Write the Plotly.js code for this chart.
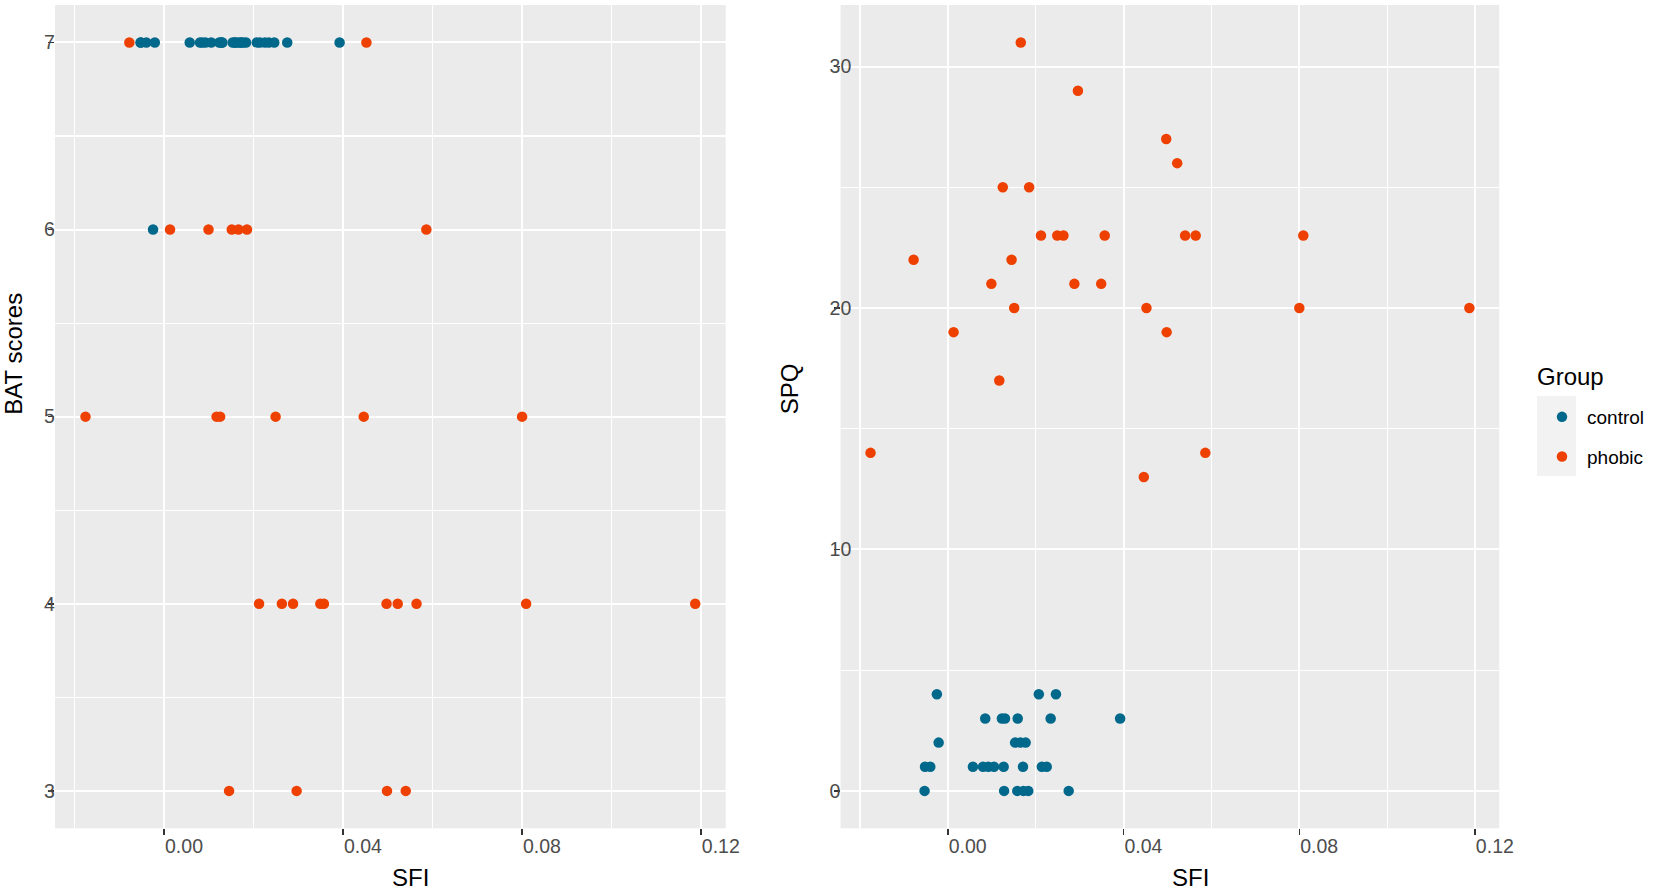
<!DOCTYPE html>
<html>
<head>
<meta charset="utf-8">
<script src="https://cdn.plot.ly/plotly-3.0.1.min.js"></script>
<style>
  html, body { margin: 0; padding: 0; background: #ffffff; }
  #chart { width: 1654px; height: 892px; }
</style>
</head>
<body>
<div id="chart"></div>
<script>
// ---- data ----
const groupNames = ["control", "phobic"];
const legendTitle = "Group";
const xTitle = "SFI";
const yTitleLeft = "BAT scores";
const yTitleRight = "SPQ";

const controlSFI = [-0.0053, 0.0128, 0.0158, 0.0172, 0.0183, 0.0275,
                    -0.0052, -0.0040, 0.0057, 0.0080, 0.0092, 0.0105, 0.0127, 0.0171, 0.0214, 0.0225,
                    -0.0021, 0.0153, 0.0165, 0.0177,
                    0.0085, 0.0123, 0.0130, 0.0159, 0.0234, 0.0392,
                    -0.0025, 0.0207, 0.0246];
const controlSPQ = [0, 0, 0, 0, 0, 0,
                    1, 1, 1, 1, 1, 1, 1, 1, 1, 1,
                    2, 2, 2, 2,
                    3, 3, 3, 3, 3, 3,
                    4, 4, 4];
const controlBAT = [7, 7, 7, 7, 7, 7,
                    7, 7, 7, 7, 7, 7, 7, 7, 7, 7,
                    7, 7, 7, 7,
                    7, 7, 7, 7, 7, 7,
                    6, 7, 7];

const phobicSFI = [0.0166, 0.0296, 0.0497, 0.0522, 0.0125, 0.0185, 0.0212, 0.0249, 0.0263, 0.0357,
                   0.0540, 0.0564, 0.0809, -0.0078, 0.0145, 0.0099, 0.0288, 0.0349, 0.0151, 0.0452,
                   0.0800, 0.0013, 0.0498, 0.0117, -0.0176, 0.0586, 0.0446, 0.1187];
const phobicSPQ = [31, 29, 27, 26, 25, 25, 23, 23, 23, 23,
                   23, 23, 23, 22, 22, 21, 21, 21, 20, 20,
                   20, 19, 19, 17, 14, 14, 13, 20];
const phobicBAT = [6, 3, 4, 4, 5, 6, 4, 5, 4, 4,
                   3, 4, 4, 7, 3, 6, 4, 4, 6, 7,
                   5, 6, 3, 5, 5, 6, 5, 4];

const batTicks = [3, 4, 5, 6, 7];
const spqTicks = [0, 10, 20, 30];
const sfiTicks = [0.00, 0.04, 0.08, 0.12];

// ---- styling ----
const colControl = "#00688B";
const colPhobic = "#EE4000";
const fontFam = "Liberation Sans, Arial, sans-serif";
const W = 1654, H = 892;

function ext(arr, pad) {
  const mn = Math.min(...arr), mx = Math.max(...arr);
  const d = (mx - mn) * pad;
  return [mn - d, mx + d];
}
const xRange = ext(controlSFI.concat(phobicSFI), 0.05);
const yRangeBAT = ext(controlBAT.concat(phobicBAT), 0.05);
const yRangeSPQ = ext(controlSPQ.concat(phobicSPQ), 0.05);

const mk = (c) => ({ color: c, size: 10.5, line: { width: 0 } });

const traces = [
  { type: "scatter", mode: "markers", x: controlSFI, y: controlBAT, xaxis: "x", yaxis: "y",
    marker: mk(colControl), name: groupNames[0], showlegend: false },
  { type: "scatter", mode: "markers", x: phobicSFI, y: phobicBAT, xaxis: "x", yaxis: "y",
    marker: mk(colPhobic), name: groupNames[1], showlegend: false },
  { type: "scatter", mode: "markers", x: controlSFI, y: controlSPQ, xaxis: "x2", yaxis: "y2",
    marker: mk(colControl), name: groupNames[0], legendgroup: "g1", showlegend: true },
  { type: "scatter", mode: "markers", x: phobicSFI, y: phobicSPQ, xaxis: "x2", yaxis: "y2",
    marker: mk(colPhobic), name: groupNames[1], legendgroup: "g2", showlegend: true }
];

const panelTop = 5, panelBot = 828.3;
const yDom = [(H - panelBot) / H, (H - panelTop) / H];
const leftPx = [55, 725.7], rightPx = [840.6, 1499.3];

function xAxis(domPx, anchor) {
  return {
    domain: [domPx[0] / W, domPx[1] / W],
    anchor: anchor,
    range: xRange,
    tickmode: "array", tickvals: sfiTicks, ticktext: sfiTicks.map(v => v.toFixed(2)),
    ticks: "outside", ticklen: 6, tickwidth: 1.6, tickcolor: "#333333",
    ticklabelposition: "outside right",
    tickfont: { family: fontFam, size: 19.5, color: "#4D4D4D" },
    showgrid: true, gridcolor: "#FFFFFF", gridwidth: 2,
    minor: { dtick: 0.02, tick0: 0, showgrid: true, gridcolor: "#FFFFFF", gridwidth: 1.1, ticks: "" },
    zeroline: false, showline: false
  };
}
function yAxis(range, ticks, minorStep, anchor) {
  return {
    domain: yDom,
    anchor: anchor,
    range: range,
    tickmode: "array", tickvals: ticks, ticktext: ticks.map(String),
    ticks: "outside", ticklen: 6, tickwidth: 1.6, tickcolor: "#333333",
    ticklabelposition: "inside",
    ticklabelstandoff: -14,
    tickfont: { family: fontFam, size: 19.5, color: "#4D4D4D" },
    showgrid: true, gridcolor: "#FFFFFF", gridwidth: 2,
    minor: { dtick: minorStep, tick0: 0, showgrid: true, gridcolor: "#FFFFFF", gridwidth: 1.1, ticks: "" },
    zeroline: false, showline: false
  };
}

const titleFont = { family: fontFam, size: 24, color: "#000000" };
const midY = (panelTop + panelBot) / 2;

const annotations = [
  { text: xTitle, xref: "paper", yref: "paper", x: ((leftPx[0] + leftPx[1]) / 2) / W, y: (H - 877) / H,
    xanchor: "left", yanchor: "middle", showarrow: false, font: titleFont },
  { text: xTitle, xref: "paper", yref: "paper", x: ((rightPx[0] + rightPx[1]) / 2) / W, y: (H - 877) / H,
    xanchor: "left", yanchor: "middle", showarrow: false, font: titleFont },
  { text: yTitleLeft, xref: "paper", yref: "paper", x: 14 / W, y: (H - midY) / H, textangle: -90,
    xanchor: "center", yanchor: "bottom", showarrow: false, font: titleFont },
  { text: yTitleRight, xref: "paper", yref: "paper", x: 789 / W, y: (H - midY) / H, textangle: -90,
    xanchor: "center", yanchor: "bottom", showarrow: false, font: titleFont },
  { text: legendTitle, xref: "paper", yref: "paper", x: 1535 / W, y: (H - 376) / H,
    xanchor: "left", yanchor: "middle", showarrow: false, font: titleFont }
];

const layout = {
  width: W, height: H,
  margin: { l: 0, r: 0, t: 0, b: 0 },
  paper_bgcolor: "#FFFFFF",
  plot_bgcolor: "#EBEBEB",
  font: { family: fontFam },
  xaxis: xAxis(leftPx, "y"),
  yaxis: yAxis(yRangeBAT, batTicks, 0.5, "x"),
  xaxis2: xAxis(rightPx, "y2"),
  yaxis2: yAxis(yRangeSPQ, spqTicks, 5, "x2"),
  showlegend: true,
  legend: {
    x: 1537 / W, xanchor: "left",
    y: (H - 398) / H, yanchor: "top",
    bgcolor: "rgba(0,0,0,0)",
    traceorder: "grouped", tracegroupgap: 12,
    itemwidth: 40,
    font: { family: fontFam, size: 19, color: "#000000" }
  },
  annotations: annotations,
  shapes: [
    { type: "rect", xref: "paper", yref: "paper", layer: "below",
      x0: 1537 / W, x1: 1576 / W, y0: (H - 476) / H, y1: (H - 396) / H,
      fillcolor: "#F2F2F2", line: { width: 0 } }
  ]
};

Plotly.newPlot("chart", traces, layout, { staticPlot: true, displayModeBar: false });
</script>
</body>
</html>
